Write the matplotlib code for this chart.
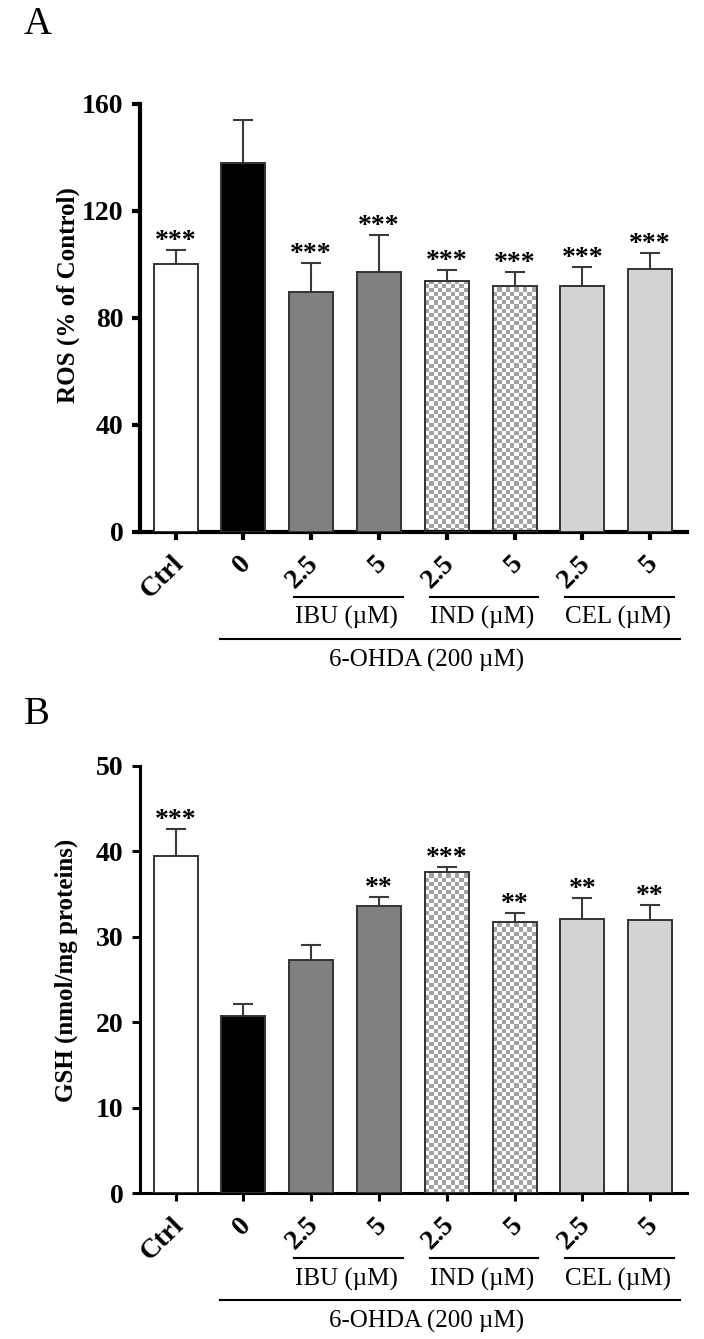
import matplotlib

matplotlib.use("Agg")
import matplotlib.pyplot as plt
import numpy as np
from matplotlib.colors import ListedColormap
from matplotlib.transforms import ScaledTranslation, blended_transform_factory

plt.rcParams["font.family"] = ["Liberation Serif", "DejaVu Serif"]

# --- data ---
categories = ["Ctrl", "0", "2.5", "5", "2.5", "5", "2.5", "5"]
group_names = ["IBU (µM)", "IND (µM)", "CEL (µM)"]
group_members = [(2, 3), (4, 5), (6, 7)]
treatment = "6-OHDA (200 µM)"

ros_mean = [100.0, 137.8, 89.7, 97.2, 93.6, 92.0, 91.7, 98.2]
ros_err = [5.4, 16.0, 10.6, 13.8, 4.1, 5.2, 7.3, 6.0]
ros_sig = ["***", "", "***", "***", "***", "***", "***", "***"]

gsh_mean = [39.5, 20.8, 27.3, 33.6, 37.6, 31.7, 32.1, 32.0]
gsh_err = [3.1, 1.4, 1.7, 1.1, 0.6, 1.1, 2.4, 1.7]
gsh_sig = ["***", "", "", "**", "***", "**", "**", "**"]

ros_ticks = [0, 40, 80, 120, 160]
gsh_ticks = [0, 10, 20, 30, 40, 50]

# bar styling
FACES = ["white", "black", "#808080", "#808080", "none", "none", "#d3d3d3", "#d3d3d3"]
CHECKER = [4, 5]
EDGE = "#333333"
XLIM = (-0.524, 7.544)

fig = plt.figure(figsize=(7.04, 13.39), dpi=100)
ax_a = fig.add_axes([0.1989, 0.6029, 0.777, 0.3196])
ax_b = fig.add_axes([0.1989, 0.1087, 0.777, 0.3193])


def checker_fill(ax, bar, cell_px=4.2):
    x0, y0 = bar.get_x(), bar.get_y()
    w, h = bar.get_width(), bar.get_height()
    (px0, py0), (px1, py1) = ax.transData.transform([(x0, y0), (x0 + w, y0 + h)])
    nx = int(np.ceil((px1 - px0) / cell_px))
    ny = int(np.ceil((py1 - py0) / cell_px))
    grid = np.add.outer(np.arange(ny), np.arange(nx)) % 2
    ux = w / (px1 - px0) * cell_px
    uy = h / (py1 - py0) * cell_px
    im = ax.imshow(grid, cmap=ListedColormap(["#a2a2a2", "white"]),
                   extent=(x0, x0 + nx * ux, y0, y0 + ny * uy), origin="lower",
                   interpolation="nearest", aspect="auto", zorder=2.5)
    im.set_clip_path(bar)


def draw_panel(ax, means, errs, sig, yticks, ylabel, spine_w, label_xy):
    x = np.arange(len(means))
    ax.set_xlim(*XLIM)
    ax.set_ylim(0, yticks[-1])

    _, caps, _ = ax.errorbar(x, means, yerr=[np.zeros(len(errs)), errs], fmt="none",
                             ecolor="#3a3a3a", elinewidth=1.5, capsize=7.5,
                             capthick=1.5, zorder=2)
    for cl in caps:
        if np.allclose(cl.get_ydata(), means):
            cl.remove()

    bars = ax.bar(x, means, width=0.65, color=FACES, edgecolor=EDGE,
                  linewidth=1.4, zorder=3)
    for i in CHECKER:
        checker_fill(ax, bars[i])
    ax.set_xlim(*XLIM)
    ax.set_ylim(0, yticks[-1])

    for i, s in enumerate(sig):
        if s:
            ax.annotate(s, xy=(x[i], means[i] + errs[i]), xytext=(0, 1.5),
                        textcoords="offset points", ha="center", va="baseline",
                        fontsize=20, fontweight="bold")

    for side in ("top", "right"):
        ax.spines[side].set_visible(False)
    for side in ("left", "bottom"):
        ax.spines[side].set_linewidth(spine_w)
    ax.tick_params(width=spine_w, length=6, labelsize=20)
    ax.tick_params(axis="y", pad=6)
    ax.tick_params(axis="x", pad=14)
    ax.set_yticks(yticks)
    ax.set_xticks(x)
    ax.set_xticklabels(categories, rotation=45, ha="right", va="center",
                       rotation_mode="anchor")
    shift = ScaledTranslation(3 / 72, 0, fig.dpi_scale_trans)
    for lab in ax.get_xticklabels() + ax.get_yticklabels():
        lab.set_fontweight("bold")
    for lab in ax.get_xticklabels():
        lab.set_transform(lab.get_transform() + shift)

    ax.set_ylabel(ylabel, fontsize=18, fontweight="bold")
    ax.yaxis.set_label_coords(*label_xy)

    # group brackets under the axis
    tr = blended_transform_factory(ax.transData, ax.transAxes)
    for name, (lo, hi) in zip(group_names, group_members):
        ax.plot([lo - 0.25, hi + 0.35], [-0.152, -0.152], color="black", lw=1.5,
                transform=tr, clip_on=False)
        ax.text((lo + hi) / 2 + 0.02, -0.2, name, transform=tr, ha="center",
                va="center", fontsize=18)
    ax.plot([0.65, 7.44], [-0.25, -0.25], color="black", lw=1.5, transform=tr,
            clip_on=False)
    ax.text(3.7, -0.3, treatment, transform=tr, ha="center", va="center",
            fontsize=18)


draw_panel(ax_a, ros_mean, ros_err, ros_sig, ros_ticks, "ROS (% of Control)",
           3.0, (-0.11, 0.554))
draw_panel(ax_b, gsh_mean, gsh_err, gsh_sig, gsh_ticks, "GSH (nmol/mg proteins)",
           2.2, (-0.114, 0.522))

fig.text(24 / 704, 1 - 34 / 1339, "A", fontsize=28, ha="left", va="baseline")
fig.text(24 / 704, 1 - 724 / 1339, "B", fontsize=28, ha="left", va="baseline")

fig.savefig("out.png", dpi=100, facecolor="white")
